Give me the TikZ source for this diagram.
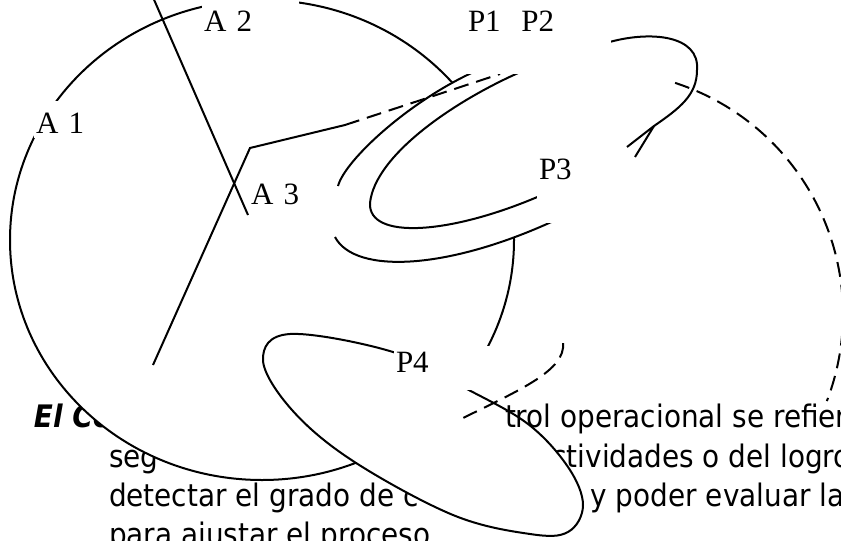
\documentclass[tikz,border=0pt]{standalone}
\usepackage{fontspec}
\newfontfamily\lblfont{Liberation Serif}
\newfontfamily\bodyfont{DejaVu Sans}[FakeStretch=0.9]

\begin{document}
\begin{tikzpicture}[x=1pt, y=-1pt, line width=2pt,
  lbl/.style={fill=white, anchor=north west, inner xsep=2pt, inner ysep=0pt,
    align=left, font=\lblfont\fontsize{31}{31}\selectfont},
  txt/.style={anchor=base west, inner sep=0pt, font=\bodyfont\fontsize{31}{39}\selectfont},
  dsh/.style={dash pattern=on 15pt off 8pt}]

\useasboundingbox (0,0) rectangle (841,541);
\clip (0,0) rectangle (841,541);

% texto del documento, debajo del dibujo
\node[txt, font=\bodyfont\bfseries\itshape\fontsize{31}{39}\selectfont] (elco) at (33,427) {El Co};
\node[txt] (seg) at (108,467) {seg};
\node[txt] (detectar) at (108,506) {detectar el grado de c};
\node[txt] (para) at (108,545) {para ajustar el proceso.};
\node[txt] (activ) at (550.5,467) {ctividades o del logro};
\node[txt] (poder) at (589.5,506) {y poder evaluar la};

% circulo grande A
\draw[fill=white] (262,240) ellipse [x radius=252, y radius=240];

% rectas sobre A
\draw (152,-5) -- (248,215);
\draw (153,365) -- (250,148) -- (345,125);

% P1 y P2
\fill[white] (478,70) .. controls (410,100) and (345,160) .. (338,186)
  .. controls (332,205) and (330,222) .. (335,237)
  .. controls (355,275) and (450,270) .. (560,218) -- cycle;
\draw (478,70) .. controls (410,100) and (345,160) .. (338,186);
\draw (335,237) .. controls (355,275) and (450,270) .. (560,218);
\draw[fill=white] (525,70) .. controls (455,100) and (375,155) .. (370,203)
  .. controls (368,240) and (450,235) .. (542,195);

% prolongacion discontinua
\draw[dsh] (345,125) -- (500,74);

% flecha curva
\coordinate (tip) at (654,126);
\draw (606,43) .. controls (650,30) and (700,35) .. (697,70)
  .. controls (697,95) and (680,108) .. (tip) -- (627,147);
\draw (tip) -- (635,157);

% P4
\draw[fill=white] plot[smooth cycle, tension=0.6] coordinates {(263,360) (290,334)
  (393,352) (465,388) (528,424) (568,467) (583,505) (568,532) (530,534)
  (453,515) (353,461) (292,410)};
\node[txt] (trol) at (504,427) {trol operacional se refiere};

% arcos discontinuos
\draw[dsh] (600,314) ++(-72:243) arc[start angle=-72, end angle=21, radius=243];
\draw[dsh] (563,343) .. controls (566,370) and (520,390) .. (463,418);

% etiquetas
\node[lbl, text width=60pt, text height=32pt, text depth=5pt] (a1) at (33,100) {A 1};
\node[lbl, text width=93pt, text height=35pt, text depth=8pt] (a2) at (201,-5) {A 2};
\node[lbl, text width=53pt, text height=25pt, text depth=22pt] (a3) at (248,178) {A 3};
\node[lbl, text width=141pt, text height=35pt, text depth=43pt] (p12) at (465,-5) {P1~~P2};
\node[lbl, text width=80pt, text height=33pt, text depth=44pt] (p3) at (536,145) {P3};
\node[lbl, text width=103pt, text height=26.5pt, text depth=17.5pt] (p4) at (393,345) {P4};

\end{tikzpicture}
\end{document}
